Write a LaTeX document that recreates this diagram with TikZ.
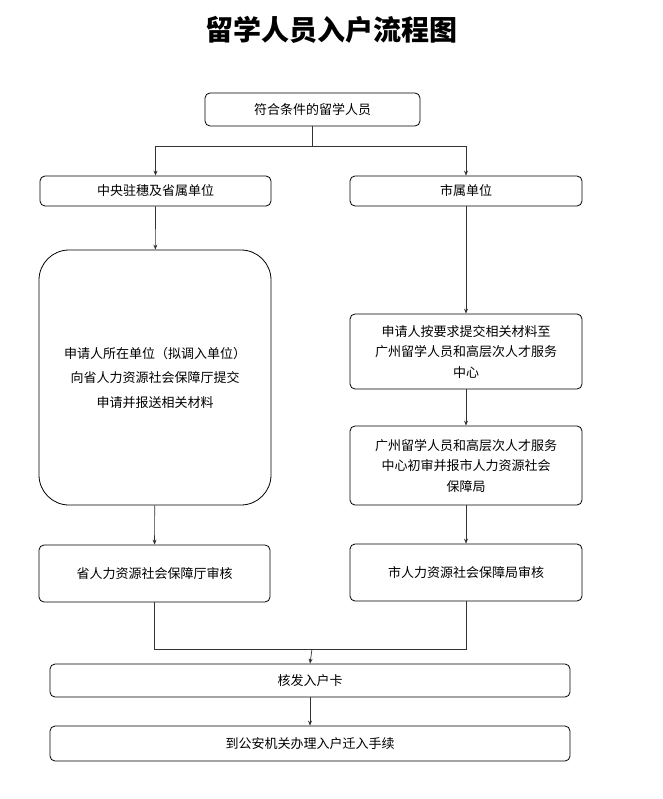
\documentclass[tikz,border=0pt]{standalone}
\usepackage{fontspec}
\newfontfamily\cjk{Noto Sans CJK SC}
\usetikzlibrary{arrows.meta}
\begin{document}
\begin{tikzpicture}[x=1pt,y=-1pt,
  box/.style={draw=black, line width=0.8pt, rounded corners=5pt, align=center,
    font=\cjk\fontsize{13}{20.5}\selectfont, inner sep=0pt},
  arr/.style={draw=black!80, line width=0.7pt, -{Stealth[length=5pt,width=4pt]}},
  ln/.style={draw=black!80, line width=0.7pt}]
\useasboundingbox (0,0) rectangle (662,799);
\node[font=\cjk\bfseries\fontsize{28}{30}\selectfont] (title) at (331,30) {留学人员入户流程图};
\node[box, minimum width=215pt, minimum height=33pt] (top) at (312.5,109.5) {符合条件的留学人员};
\node[box, minimum width=231pt, minimum height=30pt] (L1) at (155.5,191) {中央驻穗及省属单位};
\node[box, minimum width=232pt, minimum height=30pt] (R1) at (466,191) {市属单位};
\node[box, rounded corners=30pt, minimum width=232pt, minimum height=255pt, font=\cjk\fontsize{13}{24.5}\selectfont] (L2) at (155,377.5) {申请人所在单位（拟调入单位）\\向省人力资源社会保障厅提交\\申请并报送相关材料};
\node[box, minimum width=232pt, minimum height=75pt] (R2) at (466,351.5) {申请人按要求提交相关材料至\\广州留学人员和高层次人才服务\\中心};
\node[box, minimum width=232pt, minimum height=79pt] (R3) at (466,465.5) {广州留学人员和高层次人才服务\\中心初审并报市人力资源社会\\保障局};
\node[box, minimum width=231pt, minimum height=57pt] (L3) at (154.5,573.5) {省人力资源社会保障厅审核};
\node[box, minimum width=232pt, minimum height=57pt] (R4) at (466,572.5) {市人力资源社会保障局审核};
\node[box, minimum width=520pt, minimum height=33pt] (B1) at (310,680.5) {核发入户卡};
\node[box, minimum width=520pt, minimum height=35pt] (B2) at (310,743.5) {到公安机关办理入户迁入手续};
\coordinate (split) at (312.5,146);
\coordinate (merge) at (312,649);
\draw[ln] (top.south) -- (split);
\draw[arr] (split) -| (L1.north);
\draw[arr] (split) -| (R1.north);
\draw[arr] (L1) -- (L2);
\draw[arr] (R1) -- (R2);
\draw[arr] (R2) -- (R3);
\draw[arr] (R3) -- (R4);
\draw[arr] (L2) -- (L3);
\draw[ln] (L3.south) |- (merge);
\draw[ln] (R4.south) |- (merge);
\draw[arr] (merge) -- (B1.north);
\draw[arr] (B1) -- (B2);
\end{tikzpicture}
\end{document}
